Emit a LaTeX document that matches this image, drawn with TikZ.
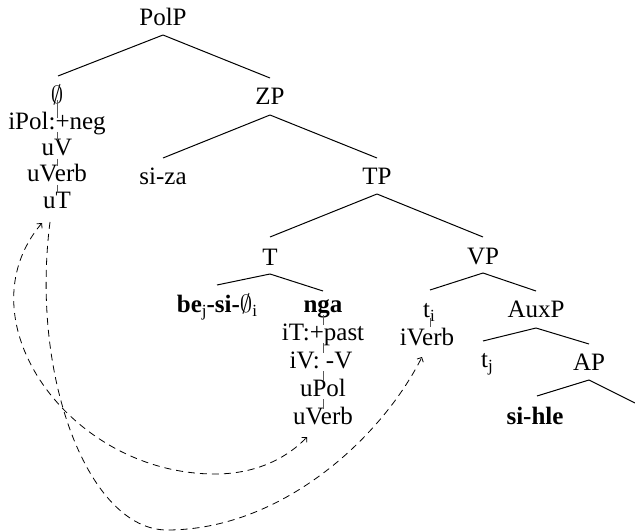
\documentclass[tikz,border=0pt]{standalone}
\usepackage{fontspec}
\setmainfont{Liberation Serif}
\usetikzlibrary{arrows.meta}
\newcommand{\mysub}[1]{\raisebox{-4pt}{\fontsize{17}{17}\selectfont #1}}
\tikzset{mybarb/.tip={Straight Barb[length=3.5pt,width=7pt]}}
\begin{document}
\begin{tikzpicture}[x=1pt,y=-1pt,
  lbl/.style={anchor=base,inner sep=0pt,font=\fontsize{25}{26}\selectfont},
  branch/.style={line width=1pt},
  feat/.style={line width=0.6pt,black!65},
  move/.style={line width=0.8pt,dash pattern=on 7pt off 5pt}]
\useasboundingbox (0,0) rectangle (635,532);
% nodes
\node[lbl] (polp) at (163,26) {PolP};
\node[lbl] (null) at (57,104) {$\emptyset$};
\node[lbl] (ipol) at (57,130) {iPol:+neg};
\node[lbl] (uv) at (57,156) {uV};
\node[lbl] (uverbA) at (57,182) {uVerb};
\node[lbl] (ut) at (57,208) {uT};
\node[lbl] (zp) at (270,105) {ZP};
\node[lbl] (siza) at (163,185) {si-za};
\node[lbl] (tp) at (377,185) {TP};
\node[lbl] (t) at (270,265) {T};
\node[lbl] (vp) at (483,264) {VP};
\node[lbl] (be) at (217,312) {\textbf{be}\mysub{j}\textbf{-si-}$\emptyset$\mysub{i}};
\node[lbl] (nga) at (323,312) {\textbf{nga}};
\node[lbl] (itpast) at (323,340) {iT:+past};
\node[lbl] (iv) at (321,368) {iV: -V};
\node[lbl] (upol) at (323,396) {uPol};
\node[lbl] (uverbB) at (323,424) {uVerb};
\node[lbl] (ti) at (429,317) {t\mysub{i}};
\node[lbl] (iverb) at (427,345) {iVerb};
\node[lbl] (auxp) at (536,317) {AuxP};
\node[lbl] (tj) at (487,367) {t\mysub{j}};
\node[lbl] (ap) at (589,370) {AP};
\node[lbl] (sihle) at (535,424) {\textbf{si-hle}};
\coordinate (apright) at (635,403);
% branches
\draw[branch] ([yshift=-9pt]polp.base) -- ([xshift=1pt,yshift=28pt]null.base);
\draw[branch] ([yshift=-9pt]polp.base) -- ([yshift=27pt]zp.base);
\draw[branch] ([yshift=-10pt]zp.base) -- ([yshift=27pt]siza.base);
\draw[branch] ([yshift=-10pt]zp.base) -- ([yshift=27pt]tp.base);
\draw[branch] ([yshift=-9pt]tp.base) -- ([yshift=28pt]t.base);
\draw[branch] ([yshift=-9pt]tp.base) -- ([yshift=27pt]vp.base);
\draw[branch] ([yshift=-9pt]t.base) -- ([yshift=27pt]be.base);
\draw[branch] ([yshift=-9pt]t.base) -- ([yshift=21pt]nga.base);
\draw[branch] ([yshift=-9pt]vp.base) -- ([xshift=1pt,yshift=27pt]ti.base);
\draw[branch] ([yshift=-9pt]vp.base) -- ([yshift=26pt]auxp.base);
\draw[branch] ([yshift=-11pt]auxp.base) -- ([xshift=-4pt,yshift=26pt]tj.base);
\draw[branch] ([yshift=-11pt]auxp.base) -- ([yshift=26pt]ap.base);
\draw[branch] ([yshift=-10pt]ap.base) -- ([xshift=2pt,yshift=28pt]sihle.base);
\draw[branch] ([yshift=-10pt]ap.base) -- (apright);
% feature links
\draw[feat] ([yshift=4pt]null.base) -- ([yshift=12pt]ipol.base);
\draw[feat] ([yshift=-2pt]ipol.base) -- ([yshift=16pt]uv.base);
\draw[feat] ([yshift=-3pt]uv.base) -- ([yshift=16pt]uverbA.base);
\draw[feat] ([yshift=-3pt]uverbA.base) -- ([yshift=15pt]ut.base);
\draw[feat] ([yshift=-3pt]nga.base) -- ([yshift=15pt]itpast.base);
\draw[feat] ([yshift=-3pt]itpast.base) -- ([xshift=2pt,yshift=15pt]iv.base);
\draw[feat] ([xshift=2pt,yshift=-3pt]iv.base) -- ([yshift=15pt]upol.base);
\draw[feat] ([yshift=-3pt]upol.base) -- ([yshift=15pt]uverbB.base);
\draw[feat] ([xshift=1pt,yshift=-1pt]ti.base) -- ([xshift=3pt,yshift=18pt]iverb.base);
% movement arrows
\draw[move,mybarb-mybarb] ([xshift=-15pt,yshift=-15pt]ut.base)
  .. controls (-40,320) and (70,474) .. (215,474)
  .. controls (260,474) and (290,455) .. ([xshift=-16pt,yshift=-13pt]uverbB.base);
\draw[move,-mybarb] ([xshift=-7pt,yshift=-14pt]ut.base)
  .. controls (30,380) and (90,530) .. (167,530)
  .. controls (280,530) and (380,440) .. ([xshift=-5pt,yshift=-12pt]iverb.base);
\end{tikzpicture}
\end{document}
